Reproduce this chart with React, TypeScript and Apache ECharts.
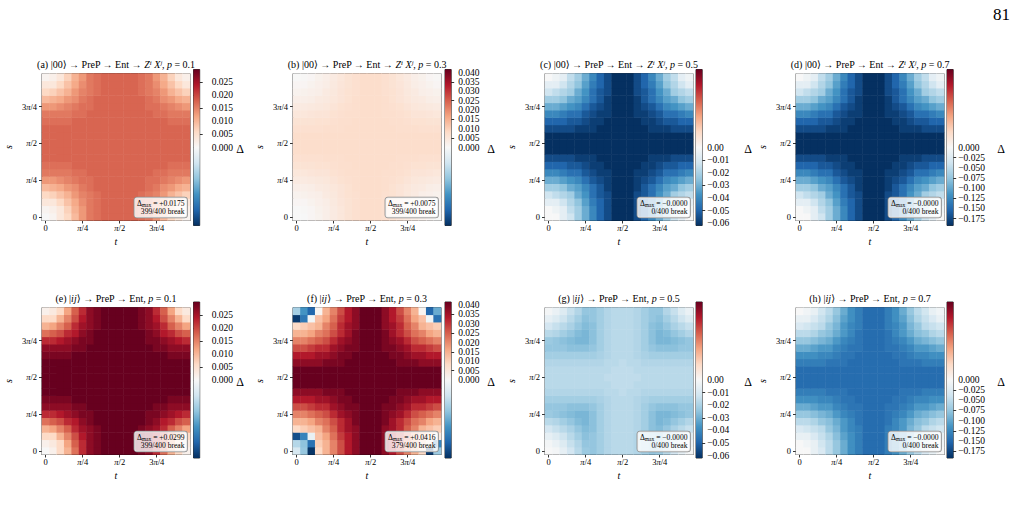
import React, { useEffect, useRef } from "react";
import * as echarts from "echarts";

// ---------- colour map (matplotlib RdBu_r) ----------
const RDBU_R = ["#053061", "#2166ac", "#4393c3", "#92c5de", "#d1e5f0", "#f7f7f7", "#fddbc7", "#f4a582", "#d6604d", "#b2182b", "#67001f"];

// ---------- axes ----------
const CELL_IDS = Array.from({ length: 20 }, (_, i) => String(i));
const TICK_INDEX = [0, 5, 10, 15];
const TICK_TEXT = ["0", "{i|π}/4", "{i|π}/2", "3{i|π}/4"];

// ---------- cell levels ----------
// rows are listed from bottom (s = 0) to top; each char is a level 0..20 (0-9, A=10 ... K=20)
const SHAPE_SOFT = [
  "00247ADGIKKKIGDA7420",
  "01257ADGIKKKIGDA7521",
  "22468BEGIKKKIGEB8642",
  "4567ACFHIKKKIHFCA765",
  "778ABDFHJKKKJHFDBA87",
  "AABCDFHIJKKKJIHFDCBA",
  "DDEFFHIJJKKKJJIHFFED",
  "GGGHHIJJKKKKKJJIHHGG",
  "IIIIJJJKKKKKKKJJJIII",
  "KKKKKKKKKKKKKKKKKKKK",
  "KKKKKKKKKKKKKKKKKKKK",
  "KKKKKKKKKKKKKKKKKKKK",
  "IIIIJJJKKKKKKKJJJIII",
  "GGGHHIJJKKKKKJJIHHGG",
  "DDEFFHIJJKKKJJIHFFED",
  "AABCDFHIJKKKJIHFDCBA",
  "778ABDFHJKKKJHFDBA87",
  "4567ACFHIKKKIHFCA765",
  "22468BEGIKKKIGEB8642",
  "01257ADGIKKKIGDA7521",
];
const SHAPE_STEEP = [
  "0147BFIJKKKKKJIFB741",
  "1248CFIJKKKKKJIFC842",
  "447ADGIJKKKKKJIGDA74",
  "78ACFHIJKKKKKJIHFCA8",
  "BCDFGIJKKKKKKKJIGFDC",
  "FFGHIJJKKKKKKKJJIHGF",
  "IIIIJJKKKKKKKKKJJIII",
  "JJJJKKKKKKKKKKKKKJJJ",
  "KKKKKKKKKKKKKKKKKKKK",
  "KKKKKKKKKKKKKKKKKKKK",
  "KKKKKKKKKKKKKKKKKKKK",
  "KKKKKKKKKKKKKKKKKKKK",
  "KKKKKKKKKKKKKKKKKKKK",
  "JJJJKKKKKKKKKKKKKJJJ",
  "IIIIJJKKKKKKKKKJJIII",
  "FFGHIJJKKKKKKKJJIHGF",
  "BCDFGIJKKKKKKKJIGFDC",
  "78ACFHIJKKKKKJIHFCA8",
  "447ADGIJKKKKKJIGDA74",
  "1248CFIJKKKKKJIFC842",
];
const SHAPE_WAVE = [
  "0148CGHFDCCCDFHGC841",
  "136ADHHFDCCCDFHHDA63",
  "469CFIHFDCCCDFHIFC96",
  "8ACEHJIFDCCCDFIJHECA",
  "CDFHJKIFDCCCDFIKJHFD",
  "GHIJKKIFDCCCDFIKKJIH",
  "HHHIIIHFDCCCDFHIIIHH",
  "FFFFFFFEDCCCDEFFFFFF",
  "DDDDDDDDCCBCCDDDDDDD",
  "CCCCCCCCCBBBCCCCCCCC",
  "CCCCCCCCBBBBBCCCCCCC",
  "CCCCCCCCCBBBCCCCCCCC",
  "DDDDDDDDCCBCCDDDDDDD",
  "FFFFFFFEDCCCDEFFFFFF",
  "HHHIIIHFDCCCDFHIIIHH",
  "GHIJKKIFDCCCDFIKKJIH",
  "CDFHJKIFDCCCDFIKJHFD",
  "8ACEHJIFDCCCDFIJHECA",
  "469CFIHFDCCCDFHIFC96",
  "136ADHHFDCCCDFHHDA63",
];
// panel (f): corner cells that do not break (row, col, Δ)
const F_DEFECTS: [number, number, number][] = [
  [19, 0, -0.014], [19, 1, -0.025], [19, 2, -0.033], [19, 3, 0.001],
  [18, 0, -0.040], [18, 1, -0.030], [18, 2, -0.001],
  [19, 17, 0.001], [19, 18, -0.033], [19, 19, -0.021], [18, 18, -0.002], [18, 19, -0.031],
  [2, 0, -0.037], [2, 1, -0.028], [2, 2, -0.003],
  [1, 0, -0.012], [1, 1, -0.017], [1, 2, -0.031],
  [0, 0, -0.007], [0, 1, -0.016], [0, 2, -0.041],
  [0, 18, -0.040], [0, 19, -0.015], [1, 19, -0.028],
];

// ---------- panels ----------
const PANEL_TAG = ["a", "b", "c", "d", "e", "f", "g", "h"];
const PANEL_P = ["0.1", "0.3", "0.5", "0.7", "0.1", "0.3", "0.5", "0.7"];
const PANEL_SHAPE = ["steep", "soft", "soft", "soft", "steep", "soft", "wave", "soft"];
const PANEL_PEAK = [0.0175, 0.0075, -0.0619, -0.192, 0.0299, 0.0416, -0.0285, -0.148];
const PANEL_DMAX = ["+0.0175", "+0.0075", "−0.0000", "−0.0000", "+0.0299", "+0.0416", "−0.0000", "−0.0000"];
const PANEL_BREAK = ["399/400", "399/400", "0/400", "0/400", "399/400", "379/400", "0/400", "0/400"];

// ---------- colour bars (one per column of panels) ----------
const COL_VLIM = [0.0299, 0.0416, 0.0619, 0.192];
const CB_TICKS = [
  [0, 0.005, 0.01, 0.015, 0.02, 0.025],
  [0, 0.005, 0.01, 0.015, 0.02, 0.025, 0.03, 0.035, 0.04],
  [0, -0.01, -0.02, -0.03, -0.04, -0.05, -0.06],
  [0, -0.025, -0.05, -0.075, -0.1, -0.125, -0.15, -0.175],
];
const CB_DIGITS = [3, 3, 2, 3];

// ---------- layout ----------
const SERIF = "'Liberation Serif', 'DejaVu Serif', serif";
const COL_X = [42, 293, 545, 796];
const ROW_Y = [73.5, 307.5];
const PLOT_W = 148;
const PLOT_H = 147;
const CB_X = [193.5, 445, 696, 947];
const CB_Y = [69.5, 302];
const CB_W = 6.2;
const CB_H = 156;
const CB_LABEL_MARGIN = [9, 4, 2, 2];
const DELTA_X = [240, 491, 748, 1001];

const SHAPES: Record<string, string[]> = { soft: SHAPE_SOFT, steep: SHAPE_STEEP, wave: SHAPE_WAVE };

function level(ch: string) {
  const c = ch.charCodeAt(0);
  return c >= 65 ? c - 55 : c - 48;
}

function panelData(k: number) {
  const rows = SHAPES[PANEL_SHAPE[k]];
  const map: number[][] = rows.map((row) => row.split("").map((ch) => (level(ch) / 20) * PANEL_PEAK[k]));
  if (k === 5) F_DEFECTS.forEach(([r, c, v]) => (map[r][c] = v));
  const out: [number, number, number][] = [];
  for (let r = 0; r < 20; r++) for (let c = 0; c < 20; c++) out.push([c, r, map[r][c]]);
  return out;
}

function fmtTick(v: number, d: number) {
  const s = Math.abs(v).toFixed(d);
  return v < -1e-12 ? "−" + s : s;
}

function buildOption() {
  const grid: any[] = [];
  const xAxis: any[] = [];
  const yAxis: any[] = [];
  const series: any[] = [];
  const visualMap: any[] = [];
  const graphic: any[] = [];

  const tickShow = (i: number) => i % 5 === 0;
  const catLabel = (_v: string, i: number) => {
    const p = TICK_INDEX.indexOf(i);
    return p >= 0 ? TICK_TEXT[p] : "";
  };
  const labelStyle = {
    fontSize: 8.5,
    fontFamily: SERIF,
    color: "#000",
    rich: { i: { fontSize: 8.5, fontFamily: SERIF, fontStyle: "italic", color: "#000" } },
  };

  for (let k = 0; k < 8; k++) {
    const col = k % 4;
    const row = k < 4 ? 0 : 1;
    const left = COL_X[col];
    const top = ROW_Y[row];
    grid.push({ left, top, width: PLOT_W, height: PLOT_H, show: true, borderColor: "#000", borderWidth: 0.8, backgroundColor: "transparent" });
    xAxis.push({
      gridIndex: k,
      type: "category",
      data: CELL_IDS,
      axisLine: { show: true, lineStyle: { color: "#000", width: 0.8 } },
      axisTick: { show: true, alignWithLabel: true, interval: tickShow, length: 3, lineStyle: { color: "#000", width: 0.8 } },
      axisLabel: { ...labelStyle, interval: tickShow, formatter: catLabel, margin: 3 },
      splitLine: { show: false },
    });
    yAxis.push({
      gridIndex: k,
      type: "category",
      data: CELL_IDS,
      axisLine: { show: true, lineStyle: { color: "#000", width: 0.8 } },
      axisTick: { show: true, alignWithLabel: true, interval: tickShow, length: 3, lineStyle: { color: "#000", width: 0.8 } },
      axisLabel: { ...labelStyle, interval: tickShow, formatter: catLabel, margin: 5 },
      splitLine: { show: false },
    });
    series.push({
      type: "heatmap",
      xAxisIndex: k,
      yAxisIndex: k,
      data: panelData(k),
      emphasis: { disabled: true },
      itemStyle: { borderWidth: 0 },
      silent: true,
    });
    visualMap.push({
      type: "continuous",
      show: false,
      seriesIndex: k,
      dimension: 2,
      min: -COL_VLIM[col],
      max: COL_VLIM[col],
      inRange: { color: RDBU_R },
    });

    // title
    const cx = left + PLOT_W / 2;
    const titleText =
      row === 0
        ? `{n|(${PANEL_TAG[k]}) |00⟩ → PreP → Ent → }{i|Zⁱ Xʲ}{n|, }{i|p}{n| = ${PANEL_P[k]}}`
        : `{n|(${PANEL_TAG[k]}) |}{i|ij}{n|⟩ → PreP → Ent, }{i|p}{n| = ${PANEL_P[k]}}`;
    graphic.push({
      type: "text",
      x: cx,
      y: top - 9,
      style: {
        text: titleText,
        align: "center",
        verticalAlign: "middle",
        rich: {
          n: { fontSize: 10, fontFamily: SERIF, fill: "#000" },
          i: { fontSize: 10, fontFamily: SERIF, fontStyle: "italic", fill: "#000" },
        },
      },
    });
    // axis names
    graphic.push({
      type: "text",
      x: cx,
      y: top + PLOT_H + 21,
      style: { text: "t", fontSize: 10, fontFamily: SERIF, fontStyle: "italic", fill: "#000", align: "center", verticalAlign: "middle" },
    });
    graphic.push({
      type: "text",
      x: left - 34,
      y: top + PLOT_H / 2,
      rotation: Math.PI / 2,
      style: { text: "s", fontSize: 10, fontFamily: SERIF, fontStyle: "italic", fill: "#000", align: "center", verticalAlign: "middle" },
    });
    // annotation box
    graphic.push({
      type: "text",
      x: left + PLOT_W - 3,
      y: top + PLOT_H - 3,
      z: 100,
      style: {
        text: `{d|Δ}{sub|max}{d| = ${PANEL_DMAX[k]}}\n{d|${PANEL_BREAK[k]} break}`,
        align: "right",
        verticalAlign: "bottom",
        backgroundColor: "rgba(255,255,255,0.8)",
        borderColor: "#8c8c8c",
        borderWidth: 0.8,
        borderRadius: 2.5,
        padding: [1.5, 2.5, 1.5, 2.5],
        rich: {
          d: { fontSize: 7.6, fontFamily: SERIF, fill: "#000", lineHeight: 8.5, align: "right" },
          sub: { fontSize: 5.5, fontFamily: SERIF, fill: "#000", lineHeight: 8.5, verticalAlign: "bottom" },
        },
      },
    });
    // colour bar Δ label
    graphic.push({
      type: "text",
      x: DELTA_X[col],
      y: CB_Y[row] + CB_H / 2 + 1.5,
      style: { text: "Δ", fontSize: 12, fontFamily: SERIF, fill: "#000", align: "center", verticalAlign: "middle" },
    });
  }

  // colour bars: two overlapping right axes per bar (even / odd ticks) so that no label is dropped
  const cbAxis = (gi: number, col: number, vals: number[]) => ({
    gridIndex: gi,
    type: "value",
    min: -COL_VLIM[col],
    max: COL_VLIM[col],
    position: "right",
    offset: 0,
    axisLine: { show: false },
    splitLine: { show: false },
    axisTick: { show: true, customValues: vals, length: 3, lineStyle: { color: "#000", width: 0.8 } },
    axisLabel: {
      show: true,
      customValues: vals,
      showMinLabel: true,
      showMaxLabel: true,
      formatter: (val: number) => fmtTick(val, CB_DIGITS[col]),
      fontSize: 9.5,
      fontFamily: SERIF,
      color: "#000",
      margin: CB_LABEL_MARGIN[col] + 3,
    },
  });
  const secondAxes: any[] = [];
  for (let k = 0; k < 8; k++) {
    const col = k % 4;
    const row = k < 4 ? 0 : 1;
    const gi = 8 + k;
    const ticks = CB_TICKS[col];
    grid.push({ left: CB_X[col], top: CB_Y[row], width: CB_W, height: CB_H, show: true, borderColor: "#000", borderWidth: 0.8, backgroundColor: "transparent" });
    xAxis.push({ gridIndex: gi, type: "value", min: 0, max: 1, show: false });
    yAxis.push(cbAxis(gi, col, ticks.filter((_, i) => i % 2 === 0)));
    secondAxes.push(cbAxis(gi, col, ticks.filter((_, i) => i % 2 === 1)));
    series.push({
      type: "custom",
      xAxisIndex: gi,
      yAxisIndex: gi,
      data: [[0.5, 0]],
      silent: true,
      renderItem: (params: any) => {
        const cs = params.coordSys;
        return {
          type: "rect",
          shape: { x: cs.x, y: cs.y, width: cs.width, height: cs.height },
          style: {
            fill: {
              type: "linear",
              x: 0,
              y: 1,
              x2: 0,
              y2: 0,
              colorStops: RDBU_R.map((c, i) => ({ offset: i / (RDBU_R.length - 1), color: c })),
            },
          },
        };
      },
    });
  }
  secondAxes.forEach((a) => yAxis.push(a));

  graphic.push({
    type: "text",
    x: 1001.5,
    y: 14.5,
    style: { text: "81", fontSize: 17, fontFamily: SERIF, fill: "#000", align: "center", verticalAlign: "middle" },
  });

  return {
    animation: false,
    backgroundColor: "#ffffff",
    grid,
    xAxis,
    yAxis,
    visualMap,
    series,
    graphic,
  };
}

export default function App() {
  const ref = useRef<HTMLDivElement>(null);
  useEffect(() => {
    if (!ref.current) return;
    const chart = echarts.init(ref.current, null, { renderer: "svg" });
    chart.setOption(buildOption() as any);
    return () => chart.dispose();
  }, []);
  return <div ref={ref} style={{ position: "fixed", left: 0, top: 0, width: 1018, height: 518, background: "#fff" }} />;
}
